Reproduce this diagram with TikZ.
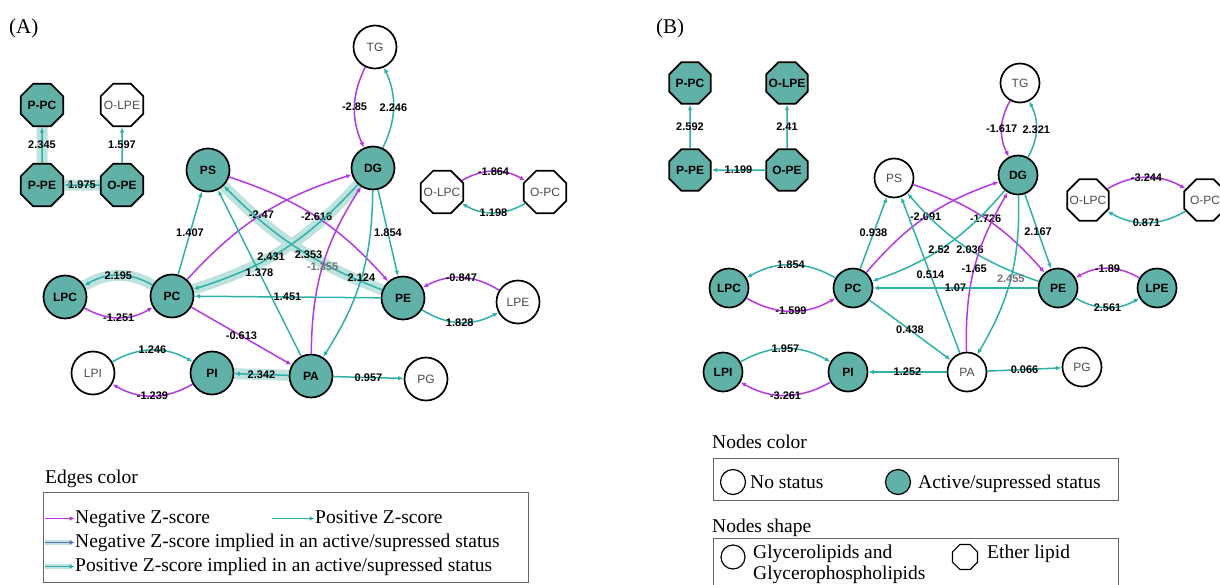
\documentclass[tikz,border=0pt]{standalone}
\usepackage{fontspec}
\setmainfont{Liberation Serif}
\newfontfamily\lipidfont{Liberation Sans}
\usetikzlibrary{arrows.meta,shapes.geometric,backgrounds}
\definecolor{actfill}{RGB}{96,178,168}
\definecolor{poscol}{RGB}{44,178,170}
\definecolor{negcol}{RGB}{182,56,228}
\definecolor{bandcol}{RGB}{190,227,222}
\definecolor{negband}{RGB}{96,112,172}

\begin{document}
\begin{tikzpicture}[
    x=1pt, y=-1pt,
    >={Latex[length=5.5pt,width=4.5pt]},
    lip/.style={circle, draw, line width=1.7pt, minimum size=43pt, inner sep=0pt, fill=white, text=black!70, font=\lipidfont\fontsize{12}{13}\selectfont},
    eth/.style={regular polygon, regular polygon sides=8, draw, line width=1.7pt, minimum size=46pt, inner sep=-6pt, fill=white, text=black!70, font=\lipidfont\fontsize{12}{13}\selectfont},
    act/.style={fill=actfill, text=black, font=\lipidfont\fontsize{12}{13}\selectfont\bfseries},
    zneg/.style={->, draw=negcol, line width=1.5pt},
    zpos/.style={->, draw=poscol, line width=1.5pt},
    band/.style={draw=bandcol, line width=11pt},
    lbl/.style={font=\lipidfont\fontsize{11}{12}\selectfont\bfseries, inner sep=1pt},
    legtxt/.style={anchor=base west, inner sep=0pt, text height=13pt, text depth=4pt, font=\fontsize{19.5}{22}\selectfont},
    legbox/.style={draw=black!60, line width=0.8pt, anchor=north west, inner sep=0pt}
]
\useasboundingbox (0,0) rectangle (1220,584);

\node[legtxt] (titleA) at (9,33) {\fontsize{21}{24}\selectfont(A)};
\node[legtxt] (titleB) at (656,33) {\fontsize{21}{24}\selectfont(B)};

% panel A
\node[eth, act] (ppcA) at (42,105) {P-PC};
\node[eth] (olpeA) at (122,105) {O-LPE};
\node[eth, act] (ppeA) at (42,185) {P-PE};
\node[eth, act] (opeA) at (122,185) {O-PE};
\node[lip] (tgA) at (375,47) {TG};
\node[lip, act] (dgA) at (373,168) {DG};
\node[lip, act] (psA) at (208,170) {PS};
\node[eth] (olpcA) at (442,192) {O-LPC};
\node[eth] (opcA) at (545,192) {O-PC};
\node[lip, act] (lpcA) at (65,297) {LPC};
\node[lip, act] (pcA) at (172,296) {PC};
\node[lip, act] (peA) at (403,298) {PE};
\node[lip] (lpeA) at (518,302) {LPE};
\node[lip] (lpiA) at (93,373) {LPI};
\node[lip, act] (piA) at (212,373) {PI};
\node[lip, act] (paA) at (311,376) {PA};
\node[lip] (pgA) at (426,379) {PG};

\begin{scope}[on background layer]
\draw[band] (ppeA) -- (ppcA);
\draw[band] (opeA) -- (ppeA);
\draw[band] (pcA) to[bend right=30] (lpcA);
\draw[band] (dgA) to[bend left=15] (pcA);
\draw[band] (peA) to[bend left=12] (psA);
\draw[band] (paA) -- (piA);
\end{scope}

\draw[zpos] (ppeA) -- node[lbl] {2.345} (ppcA);
\draw[zpos] (opeA) -- node[lbl] {1.597} (olpeA);
\draw[zpos] (opeA) -- node[lbl] {1.975} (ppeA);
\draw[zneg] (tgA) to[bend right=25] node[lbl] {-2.85} (dgA);
\draw[zpos] (dgA) to[bend right=25] node[lbl] {2.246} (tgA);
\draw[zneg] (olpcA) to[bend left=30] node[lbl] {-1.864} (opcA);
\draw[zpos] (opcA) to[bend left=30] node[lbl] {1.198} (olpcA);
\draw[zpos] (pcA) -- node[lbl] {1.407} (psA);
\draw[zneg] (pcA) to[bend left=15] node[lbl] {-2.47} (dgA);
\draw[zneg] (psA) to[bend left=15] node[lbl] {-2.616} (peA);
\draw[zpos] (dgA) to[bend left=15] node[lbl, pos=0.58] {2.431} (pcA);
\draw[zpos] (peA) to[bend left=12] node[lbl, pos=0.42] {2.353} (psA);
\draw[zpos] (paA) -- node[lbl] {1.378} (psA);
\draw[zneg] (paA) to[bend left=16] node[lbl, text=black!55] {-1.355} (dgA);
\draw[zpos] (dgA) to[bend left=16] node[lbl] {2.124} (paA);
\draw[zpos] (dgA) -- node[lbl] {1.854} (peA);
\draw[zpos] (peA) -- node[lbl] {1.451} (pcA);
\draw[zpos] (pcA) to[bend right=30] node[lbl] {2.195} (lpcA);
\draw[zneg] (lpcA) to[bend right=30] node[lbl] {-1.251} (pcA);
\draw[zneg] (lpeA) to[bend right=30] node[lbl] {-0.847} (peA);
\draw[zpos] (peA) to[bend right=30] node[lbl] {1.828} (lpeA);
\draw[zneg] (pcA) -- node[lbl] {-0.613} (paA);
\draw[zpos] (lpiA) to[bend left=30] node[lbl] {1.246} (piA);
\draw[zneg] (piA) to[bend left=30] node[lbl] {-1.239} (lpiA);
\draw[zpos] (paA) -- node[lbl] {2.342} (piA);
\draw[zpos] (paA) -- node[lbl] {0.957} (pgA);

% panel B
\begin{scope}[lip/.append style={minimum size=39pt}, eth/.append style={minimum size=45pt}]
\node[eth, act] (ppcB) at (690,83) {P-PC};
\node[eth, act] (olpeB) at (787,83) {O-LPE};
\node[eth, act] (ppeB) at (690,170) {P-PE};
\node[eth, act] (opeB) at (787,170) {O-PE};
\node[lip] (tgB) at (1020,83) {TG};
\node[lip, act] (dgB) at (1018,175) {DG};
\node[lip] (psB) at (894,178) {PS};
\node[eth] (olpcB) at (1088,200) {O-LPC};
\node[eth] (opcB) at (1205,200) {O-PC};
\node[lip, act] (lpcB) at (729,288) {LPC};
\node[lip, act] (pcB) at (853,288) {PC};
\node[lip, act] (peB) at (1058,288) {PE};
\node[lip, act] (lpeB) at (1157,288) {LPE};
\node[lip, act] (lpiB) at (723,372) {LPI};
\node[lip, act] (piB) at (848,372) {PI};
\node[lip] (paB) at (967,372) {PA};
\node[lip] (pgB) at (1082,367) {PG};
\end{scope}

\draw[zpos] (ppeB) -- node[lbl] {2.592} (ppcB);
\draw[zpos] (opeB) -- node[lbl] {2.41} (olpeB);
\draw[zpos] (opeB) -- node[lbl] {1.199} (ppeB);
\draw[zneg] (tgB) to[bend right=28] node[lbl] {-1.617} (dgB);
\draw[zpos] (dgB) to[bend right=28] node[lbl] {2.321} (tgB);
\draw[zneg] (olpcB) to[bend left=30] node[lbl] {-3.244} (opcB);
\draw[zpos] (opcB) to[bend left=30] node[lbl] {0.871} (olpcB);
\draw[zpos] (pcB) -- node[lbl] {0.938} (psB);
\draw[zneg] (pcB) to[bend left=15] node[lbl] {-2.091} (dgB);
\draw[zneg] (psB) to[bend left=15] node[lbl] {-1.726} (peB);
\draw[zpos] (dgB) to[bend left=15] node[lbl, pos=0.55] {2.52} (pcB);
\draw[zpos] (peB) to[bend left=15] node[lbl, pos=0.47] {2.036} (psB);
\draw[zpos] (paB) -- node[lbl] {0.514} (psB);
\draw[zneg] (paB) to[bend left=16] node[lbl] {-1.65} (dgB);
\draw[zpos] (dgB) to[bend left=16] node[lbl, text=black!55] {2.455} (paB);
\draw[zpos] (dgB) -- node[lbl] {2.167} (peB);
\draw[zpos] (peB) -- node[lbl] {1.07} (pcB);
\draw[zpos] (pcB) to[bend right=30] node[lbl] {1.854} (lpcB);
\draw[zneg] (lpcB) to[bend right=30] node[lbl] {-1.599} (pcB);
\draw[zneg] (lpeB) to[bend right=30] node[lbl] {-1.89} (peB);
\draw[zpos] (peB) to[bend right=30] node[lbl] {2.561} (lpeB);
\draw[zpos] (pcB) -- node[lbl] {0.438} (paB);
\draw[zpos] (lpiB) to[bend left=30] node[lbl] {1.957} (piB);
\draw[zneg] (piB) to[bend left=30] node[lbl] {-3.261} (lpiB);
\draw[zpos] (paB) -- node[lbl] {1.252} (piB);
\draw[zpos] (paB) -- node[lbl] {0.066} (pgB);

% legends
\node[legtxt] (edgetitle) at (45,483) {Edges color};
\node[legbox, minimum width=485pt, minimum height=90pt] (edgebox) at (43,492) {};
\node[legtxt] (negtxt) at (75,523) {Negative Z-score};
\node[legtxt] (postxt) at (315,523) {Positive Z-score};
\node[legtxt] (negact) at (75,547) {Negative Z-score implied in an active/supressed status};
\node[legtxt] (posact) at (75,571) {Positive Z-score implied in an active/supressed status};
\coordinate (l1) at (45,0 |- negtxt.west);
\coordinate (l2) at (272,0 |- postxt.west);
\coordinate (l3) at (45,0 |- negact.west);
\coordinate (l4) at (45,0 |- posact.west);
\draw[zneg, line width=1.1pt] (l1) -- (negtxt.west);
\draw[zpos, line width=1.1pt] (l2) -- (postxt.west);
\draw[band, line width=5pt] (l3) -- ([xshift=-3pt]negact.west);
\draw[->, draw=negband, line width=1.3pt] (l3) -- (negact.west);
\draw[band, line width=5pt] (l4) -- ([xshift=-3pt]posact.west);
\draw[zpos, line width=1.3pt] (l4) -- (posact.west);

\node[legtxt] (colortitle) at (712,448) {Nodes color};
\node[legbox, minimum width=405pt, minimum height=42pt] (colorbox) at (713,458) {};
\node[circle, draw, line width=1.2pt, minimum size=25pt, inner sep=0pt] (nostat) at (733,482) {};
\node[legtxt] (nostattxt) at (750,488) {No status};
\node[circle, draw, line width=1.2pt, fill=actfill, minimum size=25pt, inner sep=0pt] (actstat) at (898,482) {};
\node[legtxt] (actstattxt) at (918,488) {Active/supressed status};

\node[legtxt] (shapetitle) at (712,532) {Nodes shape};
\node[legbox, minimum width=405pt, minimum height=60pt] (shapebox) at (713,538) {};
\node[circle, draw, line width=1.2pt, minimum size=24pt, inner sep=0pt] (glyshape) at (733,557) {};
\node[legtxt] (glytxt) at (753,558) {Glycerolipids and};
\node[legtxt] (glytxtb) at (753,579) {Glycerophospholipids};
\node[regular polygon, regular polygon sides=8, draw, line width=1.2pt, minimum size=27pt, inner sep=0pt] (ethshape) at (965,557) {};
\node[legtxt] (ethtxt) at (987,558) {Ether lipid};
\end{tikzpicture}
\end{document}
